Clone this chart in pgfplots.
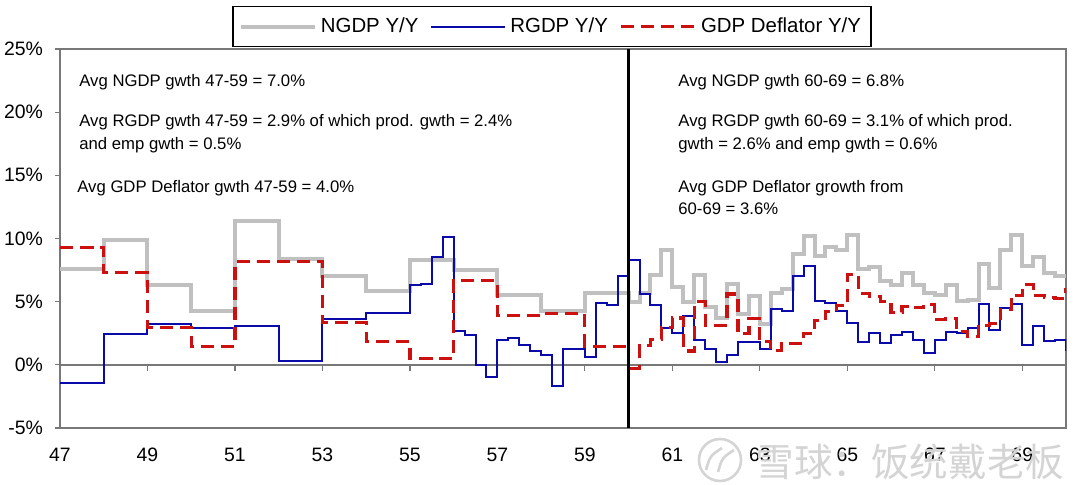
\documentclass[border=0pt]{standalone}
\usepackage{pgfplots}
\pgfplotsset{compat=1.18}
\usepackage{pgfplotstable}
\usepackage{fontspec}
\setmainfont{Liberation Sans}
\newfontfamily\cjk{Noto Sans CJK SC}
\definecolor{ngdp}{RGB}{192,192,192}
\definecolor{rgdp}{RGB}{10,10,170}
\definecolor{defl}{RGB}{204,16,16}
\definecolor{frame}{RGB}{120,120,120}
\definecolor{wmgray}{RGB}{212,212,212}

\pgfplotstableread{
x N R D
47.00 7.57 -1.40 9.28
47.25 7.57 -1.40 9.28
47.50 7.57 -1.40 9.28
47.75 7.57 -1.40 9.28
48.00 9.87 2.45 7.28
48.25 9.87 2.45 7.28
48.50 9.87 2.45 7.28
48.75 9.87 2.45 7.28
49.00 6.30 3.22 2.98
49.25 6.30 3.22 2.98
49.50 6.30 3.22 2.98
49.75 6.30 3.22 2.98
50.00 4.25 2.93 1.48
50.25 4.25 2.93 1.48
50.50 4.25 2.93 1.48
50.75 4.25 2.93 1.48
51.00 11.37 3.09 8.20
51.25 11.37 3.09 8.20
51.50 11.37 3.09 8.20
51.75 11.37 3.09 8.20
52.00 8.35 0.32 8.20
52.25 8.35 0.32 8.20
52.50 8.35 0.32 8.20
52.75 8.35 0.32 8.20
53.00 7.04 3.63 3.33
53.25 7.04 3.63 3.33
53.50 7.04 3.63 3.33
53.75 7.04 3.63 3.33
54.00 5.83 4.14 1.82
54.25 5.83 4.14 1.82
54.50 5.83 4.14 1.82
54.75 5.83 4.14 1.82
55.00 8.28 6.30 0.50
55.25 8.28 6.43 0.50
55.50 8.28 8.54 0.50
55.75 8.28 10.13 0.50
56.00 7.54 2.66 6.67
56.25 7.54 2.35 6.67
56.50 7.54 0.00 6.67
56.75 7.54 -0.95 6.67
57.00 5.51 1.96 3.93
57.25 5.51 2.14 3.93
57.50 5.51 1.56 3.93
57.75 5.51 1.11 3.93
58.00 4.25 0.77 4.06
58.25 4.25 -1.69 4.06
58.50 4.25 1.24 4.06
58.75 4.25 1.24 4.06
59.00 5.65 0.64 1.48
59.25 5.65 4.90 1.48
59.50 5.65 4.77 1.48
59.75 5.65 7.04 1.48
60.00 4.99 8.33 -0.30
60.25 5.70 5.60 1.55
60.50 7.09 4.75 2.00
60.75 9.07 2.90 2.95
61.00 6.20 2.48 3.70
61.25 5.00 3.85 1.10
61.50 7.09 2.00 5.00
61.75 4.60 1.24 3.14
62.00 3.70 0.19 3.14
62.25 6.40 0.74 5.60
62.50 4.06 1.82 2.48
62.75 5.45 1.79 3.66
63.00 3.27 1.24 1.82
63.25 5.68 4.43 1.11
63.50 6.04 4.25 1.69
63.75 8.75 7.04 1.69
64.00 10.20 7.81 2.48
64.25 8.60 5.04 3.53
64.50 9.35 4.88 4.25
64.75 9.07 4.25 4.72
65.00 10.30 3.30 7.15
65.25 7.55 1.82 5.64
65.50 7.75 2.48 5.38
65.75 6.65 1.74 4.99
66.00 6.33 2.38 4.14
66.25 7.25 2.61 4.64
66.50 6.35 1.96 4.51
66.75 5.70 0.95 4.80
67.00 5.51 1.96 3.58
67.25 6.30 2.61 3.66
67.50 5.08 2.48 2.61
67.75 5.12 2.90 2.27
68.00 8.02 4.78 3.14
68.25 6.10 2.75 3.27
68.50 9.07 4.46 4.40
68.75 10.26 4.78 5.51
69.00 7.85 1.56 6.33
69.25 8.54 3.06 5.49
69.50 7.23 1.87 5.30
69.75 7.05 1.93 5.25
70.00 7.05 1.10 6.10
}\gdp

\begin{document}
\begin{tikzpicture}
\begin{axis}[
  scale only axis, width=503pt, height=189.5pt,
  at={(0,0)}, anchor=south west,
  xmin=47, xmax=70, ymin=-5, ymax=25,
  axis line style={frame, line width=0.6pt},
  xtick={47,49,...,69},
  xticklabels={47,49,51,53,55,57,59,61,63,65,67,69},
  ytick={-5,0,5,10,15,20,25},
  yticklabels={-5\%,0\%,5\%,10\%,15\%,20\%,25\%},
  tick align=outside, major tick length=2.5pt,
  xtick pos=bottom, ytick pos=left,
  xtick style={draw=none},
  ytick style={frame, line width=0.6pt},
  tick label style={font=\fontsize{9.7}{11}\selectfont, text=black},
  xticklabel style={yshift=-4pt},
  yticklabel style={xshift=-2.5pt},
  legend style={at={(0.489,1.005)}, anchor=south, legend columns=3,
    draw=black, line width=0.6pt, fill=white,
    font=\fontsize{10.2}{12}\selectfont, inner xsep=3pt, inner ysep=3.5pt,
    /tikz/every even column/.append style={column sep=4pt}},
  legend cell align=left,
  legend image code/.code={\draw[#1] (0pt,0pt) -- (37pt,0pt);},
]
\addplot[frame, line width=0.7pt, forget plot] coordinates {(47,0) (70,0)};
\pgfplotsinvokeforeach{49,51,53,55,57,59,61,63,65,67,69}{
  \draw[frame, line width=0.6pt] (axis cs:#1,0) -- (axis cs:#1,-0.5);}
\addplot[ngdp, line width=2pt, const plot] table[x=x,y=N]{\gdp};
\addlegendentry{NGDP Y/Y}
\addplot[rgdp, line width=1pt, const plot] table[x=x,y=R]{\gdp};
\addlegendentry{RGDP Y/Y}
\addplot[defl, line width=1.6pt, const plot, dash pattern=on 6.5pt off 3.5pt] table[x=x,y=D]{\gdp};
\addlegendentry{GDP Deflator Y/Y}
\addplot[black, line width=1.2pt, forget plot] coordinates {(60,-5) (60,25)};
\end{axis}
\begin{scope}[every node/.style={anchor=base west, inner sep=0, font=\fontsize{8.35}{10}\selectfont}]
\node at (9.5pt,170.6pt) {Avg NGDP gwth 47-59 = 7.0\%};
\node at (9.5pt,150.6pt) {Avg RGDP gwth 47-59 = 2.9\% of which prod. gwth = 2.4\%};
\node at (9.5pt,139.3pt) {and emp gwth = 0.5\%};
\node at (8.5pt,117.5pt) {Avg GDP Deflator gwth 47-59 = 4.0\%};
\node at (309pt,170.6pt) {Avg NGDP gwth 60-69 = 6.8\%};
\node at (309pt,150.6pt) {Avg RGDP gwth 60-69 = 3.1\% of which prod.};
\node at (309pt,139.3pt) {gwth = 2.6\% and emp gwth = 0.6\%};
\node at (309pt,117.6pt) {Avg GDP Deflator growth from};
\node at (309pt,106.5pt) {60-69 = 3.6\%};
\end{scope}
% watermark
\draw[wmgray, line width=1.3pt] (330pt,-16pt) circle (10.5pt);
\draw[wmgray, line width=1.3pt] (323pt,-21pt) .. controls (325pt,-14pt) .. (331pt,-10pt);
\draw[wmgray, line width=1.3pt] (329pt,-22pt) .. controls (331pt,-15pt) .. (337pt,-11pt);
\node[anchor=base west, inner sep=0, text=wmgray, font=\cjk\fontsize{19.3}{20}\selectfont] at (347.5pt,-24.5pt) {雪球：饭统戴老板};
\pgfresetboundingbox
\path[use as bounding box] (-30pt,-28.5pt) rectangle (510pt,214pt);
\end{tikzpicture}
\end{document}
